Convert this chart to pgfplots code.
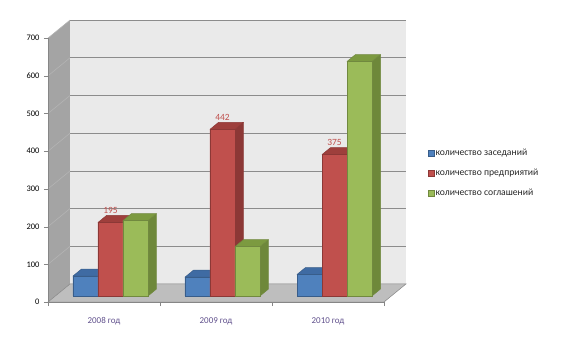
\documentclass[border=0pt]{standalone}
\usepackage{fontspec}
\setmainfont{Carlito}
\usepackage{pgfplots}
\usepackage{pgfplotstable}
\pgfplotsset{compat=1.18}

\definecolor{bluef}{HTML}{4F81BD}
\definecolor{bluet}{HTML}{3F6BA3}
\definecolor{blues}{HTML}{375E8F}
\definecolor{bluee}{HTML}{385D8A}
\definecolor{redf}{HTML}{C0504D}
\definecolor{redt}{HTML}{9E3F3C}
\definecolor{reds}{HTML}{8C3836}
\definecolor{rede}{HTML}{8C3836}
\definecolor{greenf}{HTML}{9BBB59}
\definecolor{greent}{HTML}{7C9A40}
\definecolor{greens}{HTML}{6E883A}
\definecolor{greene}{HTML}{71893F}
\definecolor{wallback}{HTML}{EAEAEA}
\definecolor{wallside}{HTML}{A4A4A4}
\definecolor{floorc}{HTML}{BEBEBE}
\definecolor{gridback}{HTML}{8C8C8C}
\definecolor{gridside}{HTML}{B4B4B4}
\definecolor{axisc}{HTML}{868686}
\definecolor{xlab}{RGB}{96,80,140}

\pgfplotstableread{
cat blue red green
0 53 195 200
1 50 442 131
2 57 375 622
}\datatable

% bar geometry (category units / value units)
\def\bw{0.2232}
\def\dxb{0.0759}
\def\dyb{18.57}

\newcommand\barfaces[6]{%
  \pgfplotstablegetelem{#1}{#2}\of\datatable
  \pgfmathsetmacro\barv{\pgfplotsretval}%
  \pgfmathsetmacro\xa{#1+#3-\bw/2}%
  \pgfmathsetmacro\xb{#1+#3+\bw/2}%
  \pgfmathsetmacro\xc{\xa+\dxb}%
  \pgfmathsetmacro\xd{\xb+\dxb}%
  \pgfmathsetmacro\vt{\barv+\dyb}%
  \edef\temp{%
    \noexpand\addplot[fill=#5,draw=#6,line width=0.5bp,line join=round] coordinates {(\xb,0) (\xd,\dyb) (\xd,\vt) (\xb,\barv)} -- cycle;
    \noexpand\addplot[fill=#4,draw=#6,line width=0.5bp,line join=round] coordinates {(\xa,\barv) (\xb,\barv) (\xd,\vt) (\xc,\vt)} -- cycle;
  }\temp}

\begin{document}
\begin{tikzpicture}
\useasboundingbox (-48bp,-52bp) rectangle (513bp,302bp);
\begin{axis}[
  at={(0,0)}, anchor=south west,
  x=112bp, y=0.377bp,
  xmin=-0.558, xmax=2.638, ymin=-15.92, ymax=731.83,
  axis lines=left, axis line style={draw=none},
  clip=false,
  tick align=outside,
  xtick={-0.058,0.942,1.942},
  xticklabels={2008 год,2009 год,2010 год},
  major x tick style={draw=none},
  minor xtick={-0.558,0.442,1.442,2.442},
  minor x tick style={draw=axisc},
  minor tick length=4bp,
  ytick={-15.92,84.08,184.08,284.08,384.08,484.08,584.08,684.08},
  yticklabels={0,100,200,300,400,500,600,700},
  major y tick style={draw=axisc},
  major tick length=4bp,
  xticklabel style={font=\fontsize{9}{10}\selectfont, text=xlab, yshift=-8bp},
  yticklabel style={font=\fontsize{8.5}{10}\selectfont, text=black, xshift=-1bp},
  legend style={draw=none, fill=none, at={(1.053,0.4576)}, anchor=west,
    font=\fontsize{9.7}{11}\selectfont, text=black!85, row sep=10bp,
    nodes={inner sep=1bp}},
  legend cell align=left,
]
% legend images first
\addlegendimage{legend image code/.code={\draw[fill=bluef,draw=bluee,line width=0.5bp] (0bp,-3bp) rectangle (6bp,3bp);}}
\addlegendentry{количество заседаний}
\addlegendimage{legend image code/.code={\draw[fill=redf,draw=rede,line width=0.5bp] (0bp,-3bp) rectangle (6bp,3bp);}}
\addlegendentry{количество предприятий}
\addlegendimage{legend image code/.code={\draw[fill=greenf,draw=greene,line width=0.5bp] (0bp,-3bp) rectangle (6bp,3bp);}}
\addlegendentry{количество соглашений}

% walls and floor
\addplot[fill=wallback, draw=none] coordinates {(-0.3616,31.83) (2.638,31.83) (2.638,731.83) (-0.3616,731.83)} -- cycle;
\addplot[fill=wallside, draw=none] coordinates {(-0.558,-15.92) (-0.3616,31.83) (-0.3616,731.83) (-0.558,684.08)} -- cycle;
\addplot[fill=floorc, draw=axisc, line width=0.5bp] coordinates {(-0.558,-15.92) (2.442,-15.92) (2.638,31.83) (-0.3616,31.83)} -- cycle;

\pgfplotsinvokeforeach{100,200,300,400,500,600,700}{%
  \pgfmathsetmacro\gy{#1+31.83}%
  \pgfmathsetmacro\gf{#1-15.92}%
  \edef\temp{%
    \noexpand\addplot[draw=gridback, line width=0.7bp] coordinates {(-0.3616,\gy) (2.638,\gy)};
    \noexpand\addplot[draw=gridside, line width=0.6bp] coordinates {(-0.558,\gf) (-0.3616,\gy)};
  }\temp}

% axis lines
\addplot[draw=axisc, line width=0.6bp] coordinates {(-0.558,-15.92) (-0.558,684.08)};
\addplot[draw=axisc, line width=0.6bp] coordinates {(-0.558,-15.92) (2.442,-15.92)};

% blue
\barfaces{0}{blue}{-0.2232}{bluet}{blues}{bluee}
\barfaces{1}{blue}{-0.2232}{bluet}{blues}{bluee}
\barfaces{2}{blue}{-0.2232}{bluet}{blues}{bluee}
\addplot[ybar, bar width=25bp, bar shift=-25bp, fill=bluef, draw=bluee, line width=0.5bp] table[x=cat,y=blue]{\datatable};

% red
\barfaces{0}{red}{0}{redt}{reds}{rede}
\barfaces{1}{red}{0}{redt}{reds}{rede}
\barfaces{2}{red}{0}{redt}{reds}{rede}
\addplot[ybar, bar width=25bp, bar shift=0bp, fill=redf, draw=rede, line width=0.5bp,
  /pgf/number format/assume math mode=true,
  nodes near coords,
  every node near coord/.append style={font=\fontsize{9.5}{10}\selectfont, text=redf, yshift=8bp, inner sep=1bp}]
  table[x=cat,y=red]{\datatable};

% green
\barfaces{0}{green}{0.2232}{greent}{greens}{greene}
\barfaces{1}{green}{0.2232}{greent}{greens}{greene}
\barfaces{2}{green}{0.2232}{greent}{greens}{greene}
\addplot[ybar, bar width=25bp, bar shift=25bp, fill=greenf, draw=greene, line width=0.5bp] table[x=cat,y=green]{\datatable};
\end{axis}
\end{tikzpicture}
\end{document}
